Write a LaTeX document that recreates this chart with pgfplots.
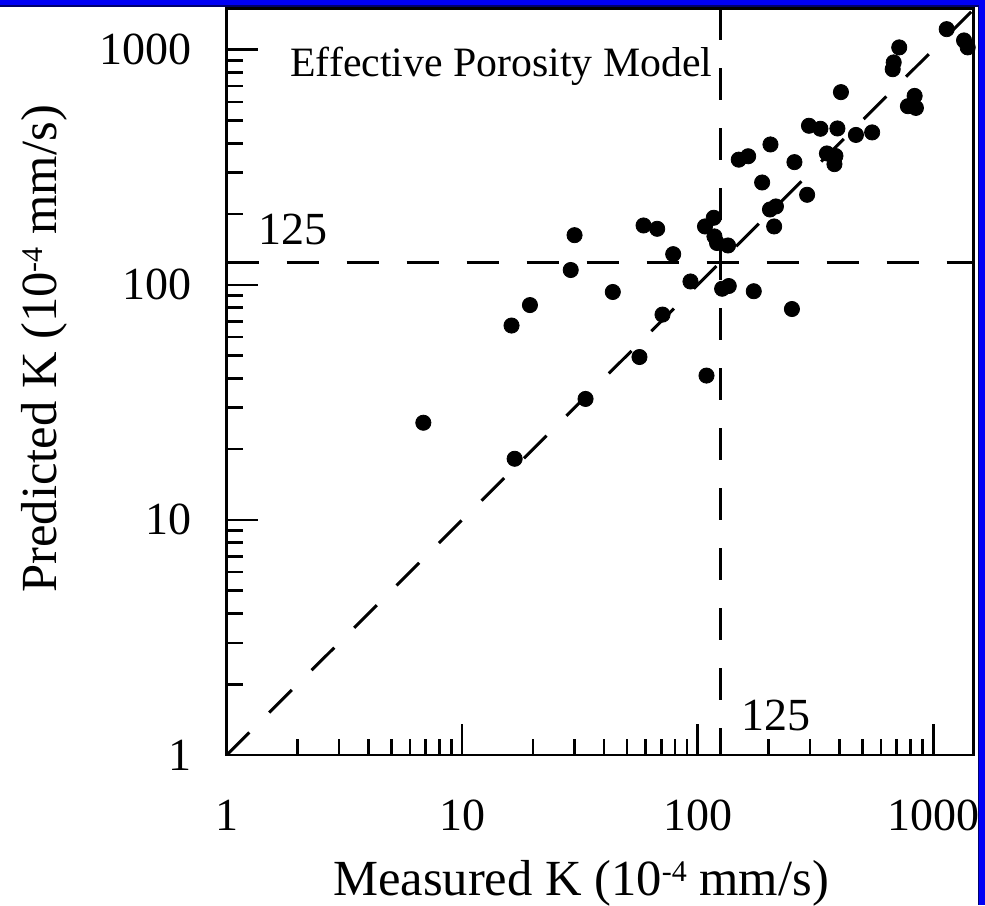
\documentclass[border=0pt]{standalone}
\usepackage{fontspec}
\setmainfont{Liberation Serif}
\usepackage{pgfplots}
\pgfplotsset{compat=1.18}
\definecolor{winblue}{RGB}{0,0,245}
\definecolor{winnavy}{RGB}{0,0,110}
\newcommand\lbl{\fontsize{23pt}{27pt}\selectfont}
\newcommand\albl{\fontsize{25.3pt}{30pt}\selectfont}
\newcommand\sups[1]{\raisebox{7pt}{\fontsize{15pt}{16pt}\selectfont #1}}
\pgfplotstableread{
x y
6.84 25.9
16.2 67.1
16.7 18.2
19.4 82.0
28.9 115.6
30.0 162.6
33.4 32.7
43.6 93.2
56.6 49.3
58.9 178.8
67.3 173.1
70.9 74.7
78.7 135.0
93.2 103.3
109.0 41.1
107.4 177.1
117.0 192.8
117.8 160.6
120.8 150.6
134.5 147.0
127.0 96.2
135.5 98.8
149.4 340.7
163.8 352.2
173.0 93.9
187.8 272.4
203.7 395.4
202.7 209.1
214.9 215.4
211.2 177.1
251.3 78.9
257.5 332.5
291.5 241.5
296.8 474.8
332.0 461.0
392.1 462.4
405.7 660.0
353.8 362.0
384.6 353.3
380.8 326.0
469.8 434.0
550.5 444.8
717.4 1022.8
679.7 883
673.1 826
834 636
781 575
844.5 565.5
1141 1223
1352 1095
1401 1023
}\datatable
\begin{document}
\begin{tikzpicture}
\begin{axis}[
  scale only axis,
  width=373.3pt, height=373.35pt,
  xmode=log, ymode=log,
  xmin=1, xmax=1480, ymin=1, ymax=1500,
  axis line style={line width=1.3pt},
  tick align=inside,
  tick pos=left,
  major tick length=15.5pt, minor tick length=8pt,
  every tick/.style={black, line width=1.3pt},
  xtick={1,10,100,1000}, xticklabels={1,10,100,1000},
  ytick={1,10,100,1000}, yticklabels={1,10,100,1000},
  /pgf/number format/assume math mode=true,
  tick label style={font=\lbl},
  xticklabel style={anchor=north, inner sep=0pt, yshift=-22.5pt},
  yticklabel style={anchor=east, inner sep=0pt, xshift=-17.35pt},
  xlabel={Measured K (10\sups{-4} mm/s)},
  ylabel={Predicted K (10\sups{-4} mm/s)},
  label style={font=\albl},
  xlabel style={at={(axis description cs:0.4746,-0.1875)}, anchor=base, inner sep=0pt},
  ylabel style={at={(axis description cs:-0.2273,0.544)}, anchor=base, inner sep=0pt, rotate=0},
]
\addplot[black, line width=1.5pt, dash pattern=on 16pt off 14pt] coordinates {(1,1) (1500,1500)};
\addplot[black, line width=1.5pt, dash pattern=on 16pt off 14pt] coordinates {(125,1500) (125,1)};
\addplot[black, line width=1.5pt, dash pattern=on 16pt off 14pt] coordinates {(1,125) (1500,125)};
\addplot[only marks, mark=*, mark size=3.8pt, mark options={fill=black, draw=black, line width=0.4pt}] table[x=x, y=y] {\datatable};
\node[anchor=base west, inner sep=0pt, font=\fontsize{20.9pt}{25pt}\selectfont] at (axis cs:1.857,767) {Effective Porosity Model};
\node[anchor=base west, inner sep=0pt, font=\lbl] at (axis cs:1.358,148) {125};
\node[anchor=base west, inner sep=0pt, font=\lbl] at (axis cs:152.4,1.277) {125};
\end{axis}
\fill[winblue] (-113.35pt,374.5pt) rectangle (379.15pt,377.5pt);
\fill[winblue] (375.6pt,-75pt) rectangle (379.15pt,377.5pt);
\draw[winnavy, line width=0.8pt] (-113.35pt,374.6pt) -- (375.8pt,374.6pt) -- (375.8pt,-75pt);
\pgfresetboundingbox
\path[use as bounding box] (-113.35pt,-75pt) rectangle (379.15pt,377.5pt);
\end{tikzpicture}
\end{document}
